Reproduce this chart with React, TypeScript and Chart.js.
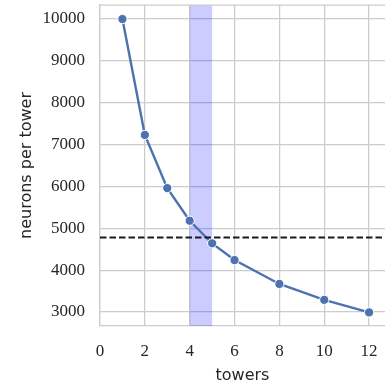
import React, { useEffect, useRef } from "react";
import { Chart, registerables } from "chart.js";

Chart.register(...registerables);

// Neurons per tower as the number of towers grows
const towers = [1, 2, 3, 4, 5, 6, 8, 10, 12];
const neuronsPerTower = [10000, 7230, 5960, 5180, 4640, 4240, 3670, 3290, 2990];

// Horizontal reference level and highlighted tower interval
const thresholdLevel = 4780;
const highlightBand = [4, 5];

// Axis extents and tick values
const xLimits = [0, 12.71];
const yLimits = [2665, 10335];
const xTicks = [0, 2, 4, 6, 8, 10, 12];
const yTicks = [3000, 4000, 5000, 6000, 7000, 8000, 9000, 10000];

const GRID = "#cccccc";
const TEXT = "#262626";
const LINE = "#4c72b0";

const bandPlugin = {
  id: "highlightBand",
  beforeDatasetsDraw(chart: any) {
    const { ctx, chartArea, scales } = chart;
    const x0 = scales.x.getPixelForValue(highlightBand[0]);
    const x1 = scales.x.getPixelForValue(highlightBand[1]);
    ctx.save();
    ctx.fillStyle = "rgba(0, 0, 255, 0.2)";
    ctx.fillRect(x0, chartArea.top, x1 - x0, chartArea.bottom - chartArea.top);
    // top frame line
    ctx.strokeStyle = GRID;
    ctx.lineWidth = 1.25;
    ctx.beginPath();
    ctx.moveTo(chartArea.left, chartArea.top);
    ctx.lineTo(chartArea.right, chartArea.top);
    ctx.stroke();
    ctx.restore();
  },
};

// Keep the plot frame fixed: no extra room reserved for overhanging labels
const noLabelPadding = (scale: any) => {
  scale.paddingTop = 0;
  scale.paddingBottom = 0;
  scale.paddingLeft = 0;
  scale.paddingRight = 0;
};

export default function App() {
  const canvasRef = useRef<HTMLCanvasElement | null>(null);

  useEffect(() => {
    if (!canvasRef.current) return;
    const chart = new Chart(canvasRef.current, {
      type: "line",
      data: {
        datasets: [
          {
            label: "neurons per tower",
            data: towers.map((t, i) => ({ x: t, y: neuronsPerTower[i] })),
            borderColor: LINE,
            backgroundColor: LINE,
            borderWidth: 2.4,
            pointRadius: 4.6,
            pointBorderColor: "#ffffff",
            pointBorderWidth: 1,
            pointBackgroundColor: LINE,
            tension: 0,
            clip: false,
            order: 2,
          },
          {
            label: "threshold",
            data: [
              { x: xLimits[0], y: thresholdLevel },
              { x: xLimits[1], y: thresholdLevel },
            ],
            borderColor: "#1a1a1a",
            borderWidth: 2,
            borderDash: [6.5, 3],
            pointRadius: 0,
            order: 1,
          },
        ],
      },
      options: {
        responsive: false,
        animation: false,
        layout: { autoPadding: false, padding: { top: 5, right: 0, left: 0, bottom: 0 } },
        plugins: {
          legend: { display: false },
          tooltip: { enabled: false },
        },
        scales: {
          x: {
            type: "linear",
            min: xLimits[0],
            max: xLimits[1],
            afterBuildTicks: (scale: any) => {
              scale.ticks = xTicks.map((v) => ({ value: v }));
            },
            afterFit: (scale: any) => {
              scale.height = 59;
              noLabelPadding(scale);
            },
            grid: { color: GRID, lineWidth: 1.25, drawTicks: false },
            border: { display: true, color: GRID, width: 1.25 },
            ticks: {
              color: TEXT,
              padding: 15,
              maxRotation: 0,
              callback: (v: any) => String(v),
              font: { family: "'Liberation Serif', serif", size: 17 },
            },
            title: {
              display: true,
              text: "towers",
              color: TEXT,
              padding: 0,
              font: { family: "'DejaVu Sans', sans-serif", size: 16 },
            },
          },
          y: {
            type: "linear",
            min: yLimits[0],
            max: yLimits[1],
            afterBuildTicks: (scale: any) => {
              scale.ticks = yTicks.map((v) => ({ value: v }));
            },
            afterFit: (scale: any) => {
              scale.width = 100;
              noLabelPadding(scale);
            },
            grid: { color: GRID, lineWidth: 1.25, drawTicks: false },
            border: { display: true, color: GRID, width: 1.25 },
            ticks: {
              color: TEXT,
              padding: 15,
              callback: (v: any) => String(v),
              font: { family: "'Liberation Serif', serif", size: 17 },
            },
            title: {
              display: true,
              text: "neurons per tower",
              color: TEXT,
              padding: { top: 17, bottom: 0 },
              font: { family: "'DejaVu Sans', sans-serif", size: 16 },
            },
          },
        },
      },
      plugins: [bandPlugin],
    });
    return () => chart.destroy();
  }, []);

  return (
    <div style={{ position: "absolute", left: 0, top: 0, width: 385, height: 385, background: "#ffffff" }}>
      <canvas ref={canvasRef} width={385} height={385} style={{ display: "block" }} />
    </div>
  );
}
